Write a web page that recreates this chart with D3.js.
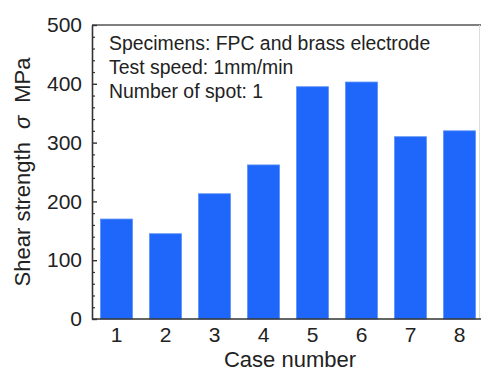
<!DOCTYPE html>
<html>
<head>
<meta charset="utf-8">
<script src="https://cdn.jsdelivr.net/npm/d3@7"></script>
<style>
  html, body { margin: 0; padding: 0; background: #fff; }
  svg { display: block; font-family: "Liberation Sans", Arial, sans-serif; }
</style>
</head>
<body>
<svg id="chart" width="481" height="374"></svg>
<script>
// Shear strength per case
const cases = ["1", "2", "3", "4", "5", "6", "7", "8"];
const strength = [170, 145, 213, 262, 395, 403, 310, 320];
const yTicks = [0, 100, 200, 300, 400, 500];
const notes = [
  "Specimens: FPC and brass electrode",
  "Test speed: 1mm/min",
  "Number of spot: 1"
];

const svg = d3.select("#chart");
const plotL = 92, plotR = 484, plotT = 25, plotB = 319;

const x = d3.scaleBand().domain(cases).range([plotL, plotR])
  .paddingInner(0.35).paddingOuter(0.175);
const y = d3.scaleLinear().domain([0, 500]).range([plotB, plotT]);

// bars
svg.append("g").selectAll("rect")
  .data(strength)
  .join("rect")
  .attr("x", (d, i) => x(cases[i]))
  .attr("y", d => y(d))
  .attr("width", x.bandwidth())
  .attr("height", d => y(0) - y(d))
  .attr("fill", "#1f66fb")
  .attr("stroke", "#5a8ef5")
  .attr("stroke-width", 0.8);

// frame top line and right line
svg.append("line").attr("x1", plotL).attr("x2", 481).attr("y1", plotT).attr("y2", plotT)
  .attr("stroke", "#555").attr("stroke-width", 1.5);
svg.append("line").attr("x1", 479.5).attr("x2", 479.5).attr("y1", plotT).attr("y2", plotB)
  .attr("stroke", "#ddd").attr("stroke-width", 1);

// minor ticks on left axis (inward)
const minor = d3.range(0, 501, 20).filter(v => v % 100 !== 0);
svg.append("g").attr("transform", `translate(${plotL},0)`)
  .call(d3.axisLeft(y).tickValues(minor).tickSize(-3).tickFormat(""))
  .call(g => g.select(".domain").remove())
  .call(g => g.selectAll("line").attr("stroke", "#333").attr("stroke-width", 1.2));

// left axis with major ticks inward
svg.append("g").attr("transform", `translate(${plotL},0)`)
  .call(d3.axisLeft(y).tickValues(yTicks).tickSizeInner(-5).tickSizeOuter(0).tickPadding(10))
  .call(g => g.select(".domain").attr("stroke", "#333").attr("stroke-width", 1.6))
  .call(g => g.selectAll("line").attr("stroke", "#333").attr("stroke-width", 1.4))
  .call(g => g.selectAll("text").attr("font-size", 21).attr("fill", "#222")
    .attr("font-family", "Liberation Sans, Arial, sans-serif"));

// bottom axis
svg.append("g").attr("transform", `translate(0,${plotB})`)
  .call(d3.axisBottom(x).tickSize(0).tickPadding(8))
  .call(g => g.select(".domain").remove())
  .call(g => g.selectAll("text").attr("font-size", 21).attr("fill", "#222")
    .attr("font-family", "Liberation Sans, Arial, sans-serif"));
svg.append("line").attr("x1", plotL).attr("x2", 481).attr("y1", plotB).attr("y2", plotB)
  .attr("stroke", "#333").attr("stroke-width", 1.6);

// axis titles
svg.append("text")
  .attr("x", 290).attr("y", 367)
  .attr("text-anchor", "middle")
  .attr("font-size", 22).attr("fill", "#222")
  .text("Case number");

const yt = svg.append("text")
  .attr("transform", "translate(30,172) rotate(-90)")
  .attr("text-anchor", "middle")
  .attr("font-size", 22).attr("fill", "#222");
yt.append("tspan").text("Shear strength");
yt.append("tspan").attr("dx", 13).attr("font-style", "italic").text("σ");
yt.append("tspan").attr("dx", 13).text("MPa");

// annotation block
svg.append("g").selectAll("text")
  .data(notes)
  .join("text")
  .attr("x", 109)
  .attr("y", (d, i) => 50 + i * 24)
  .attr("font-size", 19.4).attr("fill", "#222")
  .text(d => d);
</script>
</body>
</html>
